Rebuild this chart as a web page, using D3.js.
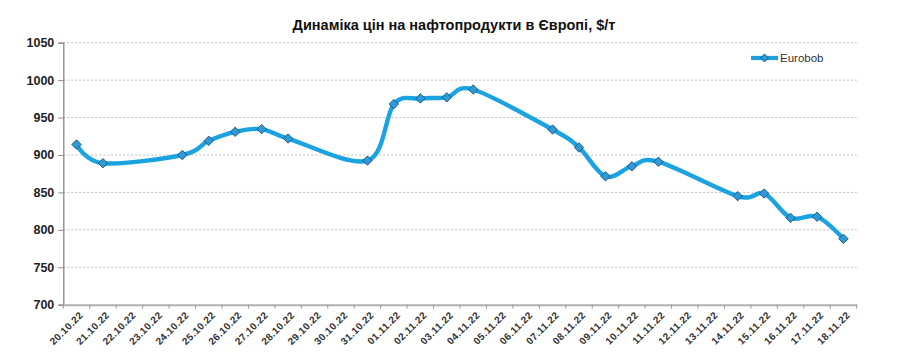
<!DOCTYPE html>
<html><head><meta charset="utf-8">
<script src="https://cdn.jsdelivr.net/npm/d3@7"></script>
<style>body{margin:0;background:#fff}svg{display:block}</style>
</head><body>
<svg id="c" width="900" height="364"></svg>
<script>
const title = "Динаміка цін на нафтопродукти в Європі, $/т";
const seriesName = "Eurobob";
const dates = ["20.10.22","21.10.22","22.10.22","23.10.22","24.10.22","25.10.22","26.10.22","27.10.22","28.10.22","29.10.22","30.10.22","31.10.22","01.11.22","02.11.22","03.11.22","04.11.22","05.11.22","06.11.22","07.11.22","08.11.22","09.11.22","10.11.22","11.11.22","12.11.22","13.11.22","14.11.22","15.11.22","16.11.22","17.11.22","18.11.22"];
const values = [914,889,null,null,900,919,931,934.5,922,null,null,892.5,968,975.5,977,987.5,null,null,934,910,871.5,885,891,null,null,845,848.5,816,817.5,788];
const yTicks = [700,750,800,850,900,950,1000,1050];

const svg = d3.select("#c");
const L = 63.3, R = 856.7, T = 42.7, B = 304.7;
const x = d3.scaleBand().domain(dates).range([L, R]).padding(0);
const y = d3.scaleLinear().domain([700, 1050]).range([B, T]);
const font = "'Liberation Sans', Arial, sans-serif";

// grid
svg.append("g").selectAll("line").data(yTicks.filter(d => d > 700)).join("line")
  .attr("x1", L).attr("x2", R).attr("y1", d => y(d)).attr("y2", d => y(d))
  .attr("stroke", "#bdbdbd").attr("stroke-width", 1).attr("stroke-dasharray", "2,2");

// y axis
const ya = svg.append("g").attr("transform", `translate(${L},0)`)
  .call(d3.axisLeft(y).tickValues(yTicks).tickSize(5).tickPadding(4).tickFormat(d3.format("d")));
ya.select(".domain").attr("stroke", "#888").attr("stroke-width", 1.3);
ya.selectAll(".tick line").attr("stroke", "#888");
ya.selectAll("text").attr("font-family", font).attr("font-size", 12.5).attr("font-weight", "bold").attr("fill", "#222");

// x axis
const xa = svg.append("g").attr("transform", `translate(0,${B})`)
  .call(d3.axisBottom(x).tickSize(0).tickSizeOuter(0));
xa.select(".domain").attr("stroke", "#b0b0b0").attr("stroke-width", 2);
xa.selectAll(".tick text")
  .attr("font-family", font).attr("font-size", 10).attr("font-weight", "bold").attr("fill", "#333")
  .attr("letter-spacing", 0.4)
  .attr("text-anchor", "end").attr("dy", 0)
  .attr("transform", "translate(5,9) rotate(-45)");
// boundary ticks
const bounds = dates.map(d => x(d)).concat([R]);
svg.append("g").selectAll("line").data(bounds).join("line")
  .attr("x1", d => d).attr("x2", d => d).attr("y1", B).attr("y2", B + 4)
  .attr("stroke", "#999").attr("stroke-width", 1);

// line
const pts = dates.map((d, i) => ({d, v: values[i]})).filter(p => p.v != null);
const cx = p => x(p.d) + x.bandwidth() / 2;
const line = d3.line().x(cx).y(p => y(p.v)).curve(d3.curveCardinal.tension(0));
svg.append("path").datum(pts).attr("d", line)
  .attr("fill", "none").attr("stroke", "#1aa3e0").attr("stroke-width", 4.4).attr("stroke-linejoin", "round");

const diamond = d3.symbol().type(d3.symbolDiamond2).size(56);
svg.append("g").selectAll("path").data(pts).join("path")
  .attr("d", diamond).attr("transform", p => `translate(${cx(p)},${y(p.v)})`)
  .attr("fill", "#2e9bd6").attr("stroke", "#1b4f7a").attr("stroke-width", 0.9);

// legend
const lg = svg.append("g");
lg.append("line").attr("x1", 751).attr("x2", 778).attr("y1", 58).attr("y2", 58)
  .attr("stroke", "#1aa3e0").attr("stroke-width", 4.2);
lg.append("path").attr("d", d3.symbol().type(d3.symbolDiamond2).size(40)).attr("transform", "translate(764.5,58)")
  .attr("fill", "#2e9bd6").attr("stroke", "#1b4f7a").attr("stroke-width", 0.9);
lg.append("text").attr("x", 780).attr("y", 62).text(seriesName)
  .attr("font-family", font).attr("font-size", 11.5).attr("fill", "#333");

// title
svg.append("text").attr("x", 454).attr("y", 30).attr("text-anchor", "middle").text(title)
  .attr("font-family", font).attr("font-size", 14.5).attr("font-weight", "bold").attr("fill", "#111");
</script>
</body></html>
